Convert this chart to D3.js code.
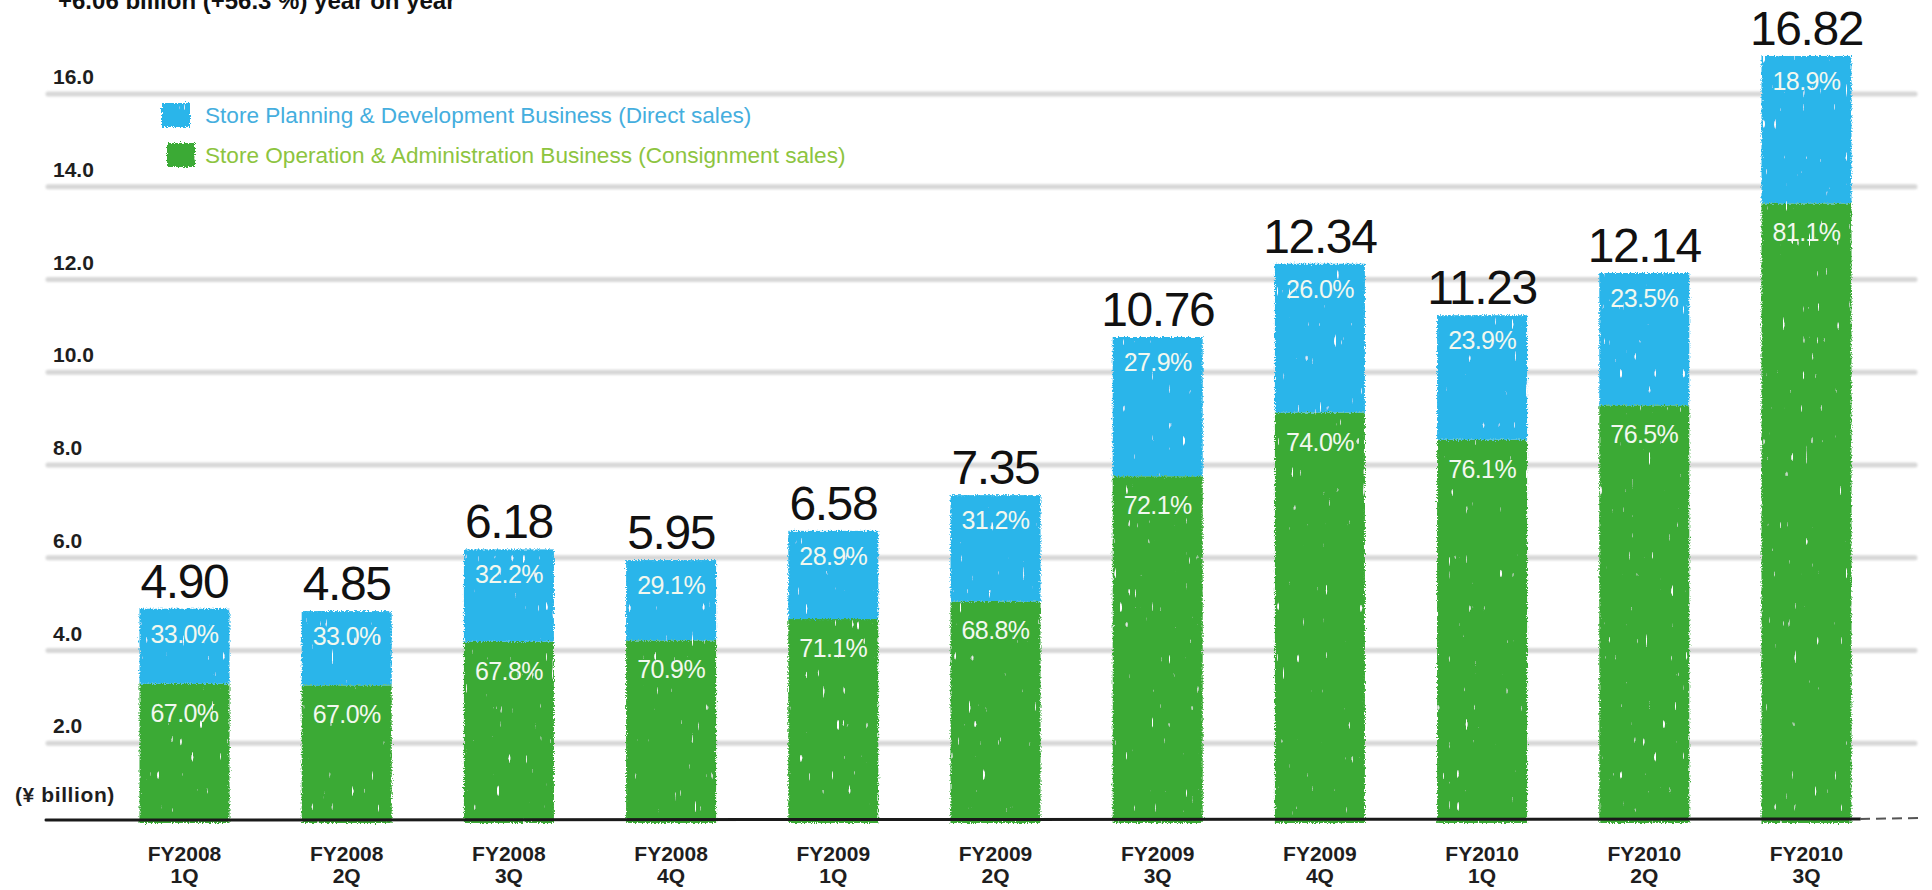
<!DOCTYPE html>
<html>
<head>
<meta charset="utf-8">
<script src="https://cdn.jsdelivr.net/npm/d3@7"></script>
<style>
  body { margin: 0; background: #ffffff; }
  svg { display: block; }
  text { font-family: "Liberation Sans", Arial, Helvetica, sans-serif; }
</style>
</head>
<body>
<svg id="chart" width="1932" height="890"></svg>
<script>
// Quarterly net sales, split by business segment
const fiscalYears = ["FY2008", "FY2008", "FY2008", "FY2008", "FY2009", "FY2009", "FY2009", "FY2009", "FY2010", "FY2010", "FY2010"];
const quarters = ["1Q", "2Q", "3Q", "4Q", "1Q", "2Q", "3Q", "4Q", "1Q", "2Q", "3Q"];
const totalSales = [4.90, 4.85, 6.18, 5.95, 6.58, 7.35, 10.76, 12.34, 11.23, 12.14, 16.82];
const directShare = [33.0, 33.0, 32.2, 29.1, 28.9, 31.2, 27.9, 26.0, 23.9, 23.5, 18.9];
const consignmentShare = [67.0, 67.0, 67.8, 70.9, 71.1, 68.8, 72.1, 74.0, 76.1, 76.5, 81.1];
const yTickValues = [2, 4, 6, 8, 10, 12, 14, 16];
const seriesNames = [
  "Store Planning & Development Business (Direct sales)",
  "Store Operation & Administration Business (Consignment sales)"
];
const headline = "+6.06 billion (+56.3 %) year on year";
const unitLabel = "(¥ billion)";

const COLORS = {
  direct: "#2bb5ea",
  consign: "#3aaa35",
  directText: "#45aede",
  consignText: "#8dc43f",
  grid: "#d7d7d7",
  axis: "#1a1a1a",
  ink: "#111111",
  inBar: "#f2f8ef"
};

const periods = fiscalYears.map((fy, i) => ({
  key: fy + " " + quarters[i],
  fy: fy,
  q: quarters[i],
  total: totalSales[i],
  direct: directShare[i],
  consign: consignmentShare[i],
  consignValue: totalSales[i] * consignmentShare[i] / 100
}));

const svg = d3.select("#chart");

// Hand-drawn look: jagged marker edges and a few light streaks
const defs = svg.append("defs");
const rough = defs.append("filter").attr("id", "rough")
  .attr("x", "-10%").attr("y", "-10%").attr("width", "120%").attr("height", "120%");
rough.append("feTurbulence").attr("type", "fractalNoise").attr("baseFrequency", "0.7")
  .attr("numOctaves", 2).attr("seed", 4).attr("result", "noise");
rough.append("feDisplacementMap").attr("in", "SourceGraphic").attr("in2", "noise")
  .attr("scale", 5).attr("xChannelSelector", "R").attr("yChannelSelector", "G").attr("result", "jag");
rough.append("feTurbulence").attr("type", "fractalNoise").attr("baseFrequency", "0.35 0.06")
  .attr("numOctaves", 1).attr("seed", 11).attr("result", "streakNoise");
rough.append("feColorMatrix").attr("in", "streakNoise").attr("type", "matrix")
  .attr("values", "0 0 0 0 1  0 0 0 0 1  0 0 0 0 1  18 0 0 0 -13.2").attr("result", "streaks");
rough.append("feComposite").attr("in", "streaks").attr("in2", "jag").attr("operator", "in").attr("result", "streaksIn");
const merge = rough.append("feMerge");
merge.append("feMergeNode").attr("in", "jag");
merge.append("feMergeNode").attr("in", "streaksIn");

const soft = defs.append("filter").attr("id", "soft")
  .attr("x", "-2%").attr("y", "-50%").attr("width", "104%").attr("height", "200%");
soft.append("feGaussianBlur").attr("stdDeviation", 0.9);

// Scales
const x = d3.scaleBand()
  .domain(periods.map(d => d.key))
  .range([103.4, 1887.6])
  .paddingInner(0.445)
  .paddingOuter(0.2225);

const y = d3.scaleLinear().domain([0, 16]).range([836, 94]);

const axisY = 820;      // drawn baseline of the bars
const barBottom = 823;

// Headline (runs off the top edge)
svg.append("text")
  .attr("x", 58).attr("y", 9)
  .attr("font-size", 24).attr("font-weight", "bold").attr("fill", COLORS.ink)
  .text(headline);

// Gridlines
svg.append("g").attr("filter", "url(#soft)")
  .selectAll("line").data(yTickValues).join("line")
  .attr("x1", 48).attr("x2", 1915)
  .attr("y1", d => y(d)).attr("y2", d => y(d))
  .attr("stroke", COLORS.grid).attr("stroke-width", 5).attr("stroke-linecap", "round");

// Y tick labels
svg.append("g")
  .selectAll("text").data(yTickValues).join("text")
  .attr("x", 53).attr("y", d => y(d) - 10)
  .attr("font-size", 21).attr("font-weight", "bold").attr("fill", "#1e1e1e")
  .text(d => d3.format(".1f")(d));

svg.append("text")
  .attr("x", 15).attr("y", 802)
  .attr("font-size", 21).attr("font-weight", "bold").attr("fill", "#1e1e1e")
  .attr("letter-spacing", 0.6)
  .text(unitLabel);

// Stacked bars
const bars = svg.append("g").attr("filter", "url(#rough)");
bars.selectAll("rect.consign").data(periods).join("rect")
  .attr("class", "consign")
  .attr("x", d => x(d.key)).attr("width", x.bandwidth())
  .attr("y", d => y(d.consignValue))
  .attr("height", d => barBottom - y(d.consignValue))
  .attr("fill", COLORS.consign);
bars.selectAll("rect.direct").data(periods).join("rect")
  .attr("class", "direct")
  .attr("x", d => x(d.key)).attr("width", x.bandwidth())
  .attr("y", d => y(d.total))
  .attr("height", d => y(d.consignValue) - y(d.total))
  .attr("fill", COLORS.direct);

// X axis baseline
svg.append("line")
  .attr("x1", 46).attr("x2", 1860).attr("y1", axisY).attr("y2", axisY - 1)
  .attr("stroke", COLORS.axis).attr("stroke-width", 3).attr("stroke-linecap", "round");
svg.append("line")
  .attr("x1", 1860).attr("x2", 1922).attr("y1", axisY - 1).attr("y2", axisY - 2)
  .attr("stroke", "#555").attr("stroke-width", 2).attr("stroke-dasharray", "10 6");

// Segment share labels
const center = d => x(d.key) + x.bandwidth() / 2;
svg.append("g").selectAll("text").data(periods).join("text")
  .attr("x", center).attr("y", d => y(d.total) + 34)
  .attr("text-anchor", "middle").attr("font-size", 25).attr("fill", COLORS.inBar)
  .attr("letter-spacing", -0.6)
  .text(d => d3.format(".1f")(d.direct) + "%");
svg.append("g").selectAll("text").data(periods).join("text")
  .attr("x", center).attr("y", d => y(d.consignValue) + 38)
  .attr("text-anchor", "middle").attr("font-size", 25).attr("fill", COLORS.inBar)
  .attr("letter-spacing", -0.6)
  .text(d => d3.format(".1f")(d.consign) + "%");

// Totals above bars
svg.append("g").selectAll("text").data(periods).join("text")
  .attr("x", center).attr("y", d => y(d.total) - 11)
  .attr("text-anchor", "middle").attr("font-size", 48).attr("fill", COLORS.ink)
  .attr("letter-spacing", -1.4)
  .text(d => d3.format(".2f")(d.total));

// Category labels
const cat = svg.append("g").selectAll("text").data(periods).join("text")
  .attr("text-anchor", "middle").attr("font-size", 21).attr("font-weight", "bold").attr("fill", "#1e1e1e");
cat.append("tspan").attr("x", center).attr("y", 861).text(d => d.fy);
cat.append("tspan").attr("x", center).attr("y", 883).text(d => d.q);

// Legend
const legend = svg.append("g");
const legendItems = [
  { name: seriesNames[0], fill: COLORS.direct, text: COLORS.directText, sx: 162, sy: 103 },
  { name: seriesNames[1], fill: COLORS.consign, text: COLORS.consignText, sx: 167, sy: 143 }
];
legend.append("g").attr("filter", "url(#rough)")
  .selectAll("rect").data(legendItems).join("rect")
  .attr("x", d => d.sx).attr("y", d => d.sy).attr("width", 28).attr("height", 24)
  .attr("fill", d => d.fill);
legend.selectAll("text").data(legendItems).join("text")
  .attr("x", 205).attr("y", d => d.sy + 20)
  .attr("font-size", 22.6).attr("fill", d => d.text)
  .text(d => d.name);
</script>
</body>
</html>
